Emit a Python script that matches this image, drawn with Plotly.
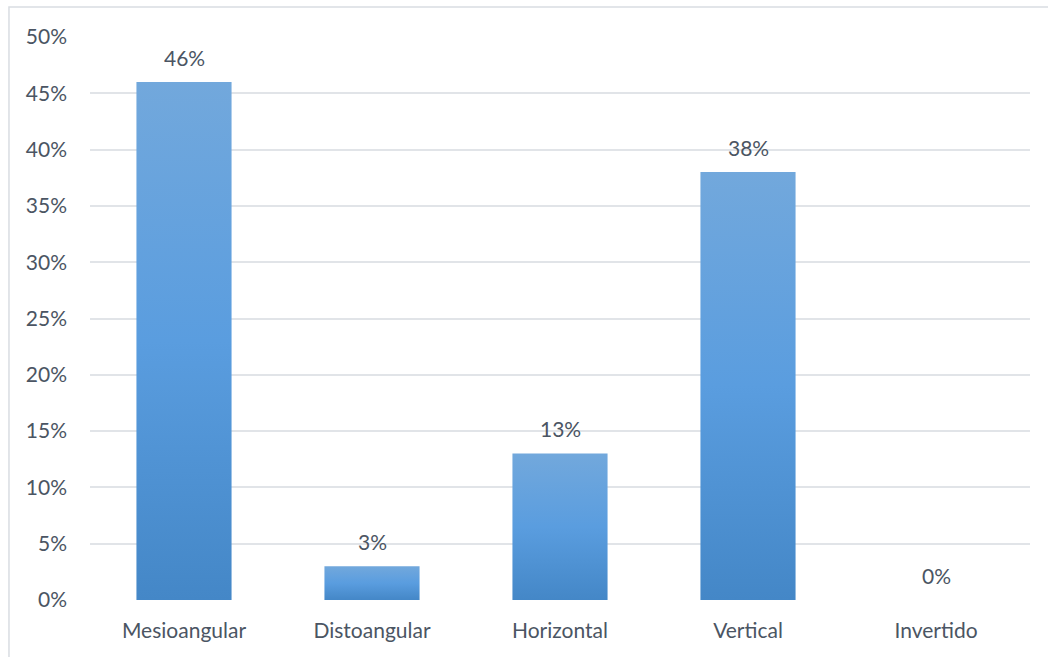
import plotly.graph_objects as go

categories = ["Mesioangular", "Distoangular", "Horizontal", "Vertical", "Invertido"]
shares = [0.46, 0.03, 0.13, 0.38, 0.00]
y_ticks = [0, 0.05, 0.10, 0.15, 0.20, 0.25, 0.30, 0.35, 0.40, 0.45, 0.50]
y_tick_labels = ["0%", "5%", "10%", "15%", "20%", "25%", "30%", "35%", "40%", "45%", "50%"]

TEXT = "#4b5563"
GRID = "#e1e4e8"
FONT = "Lato"
FS = 21
HALF_W = 0.253
bar_scale = [[0.0, "#4487c7"], [0.5, "#5a9ddf"], [1.0, "#72a8dc"]]

fig = go.Figure()

# each column is a filled rectangle so it can carry its own vertical gradient
for i, (cat, v) in enumerate(zip(categories, shares)):
    if v <= 0:
        continue
    fig.add_trace(go.Scatter(
        x=[i - HALF_W, i + HALF_W, i + HALF_W, i - HALF_W, i - HALF_W],
        y=[0, 0, v, v, 0],
        mode="lines",
        line=dict(width=0),
        fill="toself",
        fillgradient=dict(type="vertical", colorscale=bar_scale),
        hoverinfo="skip",
        showlegend=False,
        name=cat,
    ))

for i, v in enumerate(shares):
    fig.add_annotation(
        x=i, y=v, text=f"{round(v * 100)}%", showarrow=False,
        yanchor="middle", yshift=25,
        font=dict(family=FONT, size=FS, color=TEXT),
    )

# outer chart border
fig.add_shape(type="rect", xref="paper", yref="paper",
              x0=-0.0862, x1=1.03, y0=-0.12, y1=1.0533,
              line=dict(color="#d9dde2", width=1.5), fillcolor="rgba(0,0,0,0)", layer="below")

fig.update_layout(
    width=1048, height=657,
    margin=dict(l=90, r=18, t=37, b=57),
    paper_bgcolor="white", plot_bgcolor="white",
    font=dict(family=FONT, size=FS, color=TEXT),
    showlegend=False,
)
fig.update_xaxes(
    range=[-0.5, 4.5], tickmode="array",
    tickvals=list(range(len(categories))), ticktext=categories,
    showgrid=False, zeroline=False, showline=False, ticks="",
    ticklabelstandoff=16, fixedrange=True,
)
fig.update_yaxes(
    range=[0, 0.5], tickmode="array", tickvals=y_ticks, ticktext=y_tick_labels,
    showgrid=True, gridcolor=GRID, gridwidth=1.5,
    zeroline=False, showline=False, ticks="",
    ticklabelstandoff=22, fixedrange=True,
)

fig.write_html("out.html")
